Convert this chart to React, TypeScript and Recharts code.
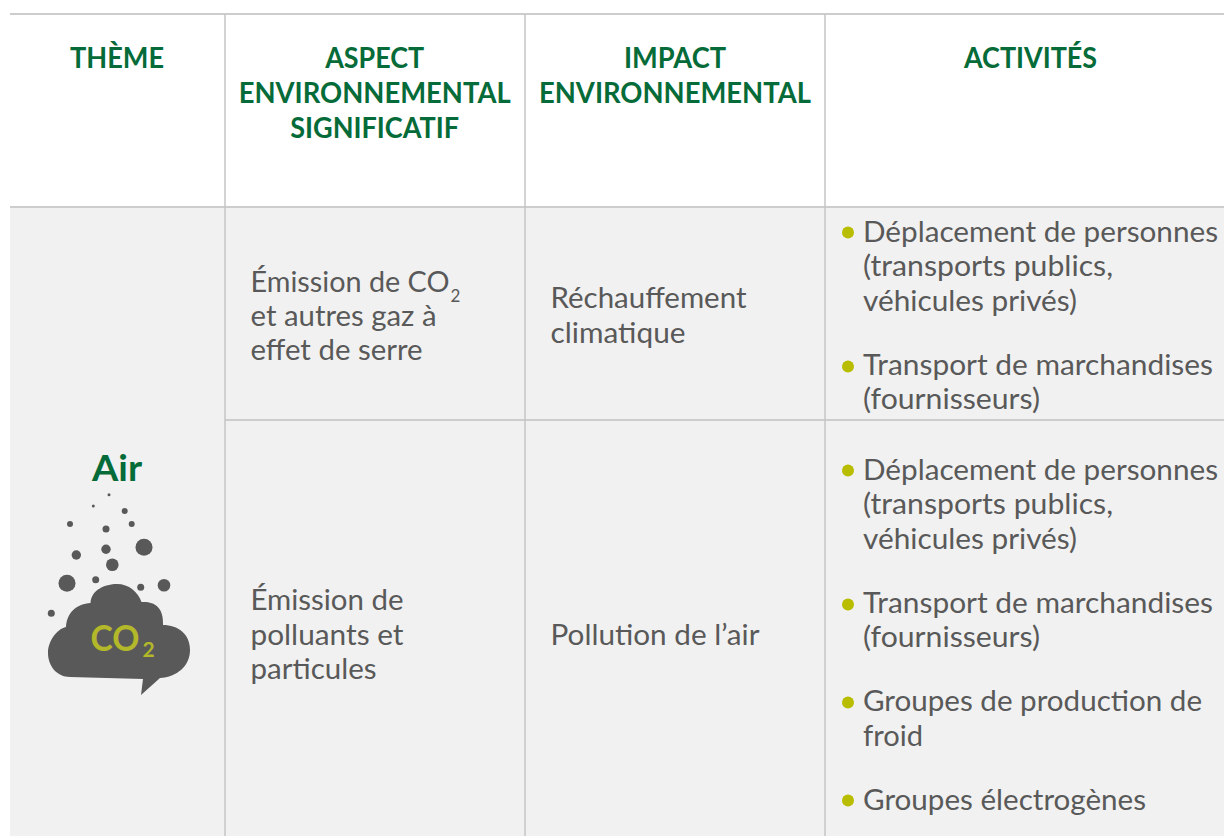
import { ScatterChart, Scatter, XAxis, YAxis, ReferenceArea, ReferenceLine } from "recharts";

const WIDTH = 1224;
const HEIGHT = 836;

const GREEN = "#056b38";
const GREY = "#595959";
const OLIVE = "#b3b82a";
const RULE = "#cdcdcd";
const LINE_H = 34.4;
const HEADER_LINE_H = 34.8;

// table grid
const columnEdges = [225, 525, 825];
const rowEdges = [14, 207];
const innerRowEdge = 420;

// text
const themeHeader = ["THÈME"];
const aspectHeader = ["ASPECT", "ENVIRONNEMENTAL", "SIGNIFICATIF"];
const impactHeader = ["IMPACT", "ENVIRONNEMENTAL"];
const activityHeader = ["ACTIVITÉS"];
const aspectRowOne = ["Émission de CO", "et autres gaz à", "effet de serre"];
const aspectRowTwo = ["Émission de", "polluants et", "particules"];
const impactRowOne = ["Réchauffement", "climatique"];
const impactRowTwo = ["Pollution de l’air"];
const travelItem = ["Déplacement de personnes", "(transports publics,", "véhicules privés)"];
const freightItem = ["Transport de marchandises", "(fournisseurs)"];
const coolingItem = ["Groupes de production de", "froid"];
const generatorItem = ["Groupes électrogènes"];

// measured line widths so the substitute font fills the same length
const lineWidths: Record<string, number> = {
  "THÈME": 94,
  "ASPECT": 99,
  "ENVIRONNEMENTAL": 272,
  "SIGNIFICATIF": 169,
  "IMPACT": 102,
  "ACTIVITÉS": 133,
  "Air": 50,
  "Émission de CO": 199,
  "et autres gaz à": 186,
  "effet de serre": 172,
  "Émission de": 153,
  "polluants et": 153,
  "particules": 126,
  "Réchauffement": 196,
  "climatique": 135,
  "Pollution de l’air": 209,
  "Déplacement de personnes": 355,
  "(transports publics,": 250,
  "véhicules privés)": 214,
  "Transport de marchandises": 350,
  "(fournisseurs)": 177,
  "Groupes de production de": 339,
  "froid": 60,
  "Groupes électrogènes": 283,
  "CO": 49,
};

// particles above the cloud
const particleX = [109, 93.3, 124.7, 70, 131.7, 106, 144, 106, 76.3, 112.3, 67, 95.7, 140.7, 164, 51.3];
const particleY = [494.7, 506, 511, 524, 524, 529, 547.3, 549.3, 555, 564.7, 583.3, 579.7, 587.3, 585.3, 613.3];
const particleR = [1.5, 1.5, 3, 3, 3, 3.5, 8.5, 4.7, 4.7, 6.3, 8.5, 3.5, 3.5, 6.3, 3.5];

const bulletY = [232.5, 366.5, 470.5, 604.5, 702.5, 800.5];

type Label = { x: number; y: number; text: string; size: number; bold?: boolean; color: string; anchor?: string };

const block = (lines: string[], x: number, y: number, size: number, color: string, bold = false, anchor = "start"): Label[] =>
  lines.map((text, i) => ({ x, y: y + i * (bold ? HEADER_LINE_H : LINE_H), text, size, color, bold, anchor }));

const labels: Label[] = [
  ...block(themeHeader, 117, 68.4, 29, GREEN, true, "middle"),
  ...block(aspectHeader, 374.7, 68.4, 29, GREEN, true, "middle"),
  ...block(impactHeader, 675, 68.4, 29, GREEN, true, "middle"),
  ...block(activityHeader, 1030.5, 68.4, 29, GREEN, true, "middle"),
  ...block(aspectRowOne, 250.5, 291.6, 28, GREY),
  ...block(impactRowOne, 550.5, 308.4, 28, GREY),
  ...block(aspectRowTwo, 250.5, 610.2, 28, GREY),
  ...block(impactRowTwo, 550.5, 645, 28, GREY),
  ...block(travelItem, 863, 242, 28, GREY),
  ...block(freightItem, 863, 375, 28, GREY),
  ...block(travelItem, 863, 480, 28, GREY),
  ...block(freightItem, 863, 613, 28, GREY),
  ...block(coolingItem, 863, 711.4, 28, GREY),
  ...block(generatorItem, 863, 810, 28, GREY),
  { x: 117, y: 481, text: "Air", size: 37, bold: true, color: GREEN, anchor: "middle" },
  { x: 450.5, y: 302, text: "2", size: 17, color: GREY },
];

const cloudLabels: Label[] = [
  { x: 90.5, y: 651, text: "CO", size: 36, bold: true, color: OLIVE },
  { x: 142.5, y: 657, text: "2", size: 21, bold: true, color: OLIVE },
];

const particles = particleX.map((x, i) => ({ x, y: particleY[i], r: particleR[i] }));
const bullets = bulletY.map(y => ({ x: 848, y, r: 6 }));
const cloudAnchor = [{ x: 115, y: 640 }];

const Dot = ({ cx, cy, payload, fill }: any) => <circle cx={cx} cy={cy} r={payload.r} fill={fill} />;

const TextMark = ({ cx, cy, payload }: any) => (
  <text
    x={cx}
    y={cy}
    fontFamily="Lato"
    fontSize={payload.size}
    fontWeight={payload.bold ? 700 : 400}
    fill={payload.color}
    textAnchor={payload.anchor || "start"}
    textLength={lineWidths[payload.text]}
    lengthAdjust="spacingAndGlyphs"
  >
    {payload.text}
  </text>
);

// outline is relative to the anchor point so it follows the scales
const CloudMark = ({ cx, cy }: any) => (
  <path
    transform={`translate(${cx} ${cy})`}
    fill={GREY}
    d="M-24.5 -37 C-24 -50 -10 -56 2 -56 C14 -56 23 -48 26.5 -38 C38 -39 49 -34 48 -15 C63 -15 75 -6 75 10 C75 26 62 37 45 38 L26 55 L28 39 L-45 37 C-58 37 -67 26 -67 13 C-67 1 -58 -11 -49 -13 C-48 -28 -38 -36 -24.5 -37 Z"
  />
);

export default function App() {
  return (
    <div style={{ position: "absolute", left: 0, top: 0, width: WIDTH, height: HEIGHT, background: "#fff" }}>
      <ScatterChart width={WIDTH} height={HEIGHT} margin={{ top: 0, right: 0, bottom: 0, left: 0 }}>
        <XAxis type="number" dataKey="x" domain={[0, WIDTH]} hide />
        <YAxis type="number" dataKey="y" domain={[0, HEIGHT]} reversed hide />

        <ReferenceArea x1={10} x2={WIDTH} y1={rowEdges[1]} y2={HEIGHT} fill="#f1f1f1" fillOpacity={1} stroke="none" />
        <ReferenceLine segment={[{ x: 10, y: rowEdges[0] }, { x: WIDTH, y: rowEdges[0] }]} stroke={RULE} strokeWidth={2} />
        <ReferenceLine segment={[{ x: 10, y: rowEdges[1] }, { x: WIDTH, y: rowEdges[1] }]} stroke={RULE} strokeWidth={2} />
        <ReferenceLine segment={[{ x: columnEdges[0], y: innerRowEdge }, { x: WIDTH, y: innerRowEdge }]} stroke={RULE} strokeWidth={2} />
        {columnEdges.map(x => (
          <ReferenceLine key={x} segment={[{ x, y: rowEdges[0] }, { x, y: HEIGHT }]} stroke="#c4c4c4" strokeWidth={1.5} />
        ))}

        <Scatter data={particles} fill={GREY} shape={Dot} isAnimationActive={false} />
        <Scatter data={cloudAnchor} shape={CloudMark} isAnimationActive={false} />
        <Scatter data={cloudLabels} shape={TextMark} isAnimationActive={false} />
        <Scatter data={bullets} fill="#b9bd00" shape={Dot} isAnimationActive={false} />
        <Scatter data={labels} shape={TextMark} isAnimationActive={false} />
      </ScatterChart>
    </div>
  );
}
